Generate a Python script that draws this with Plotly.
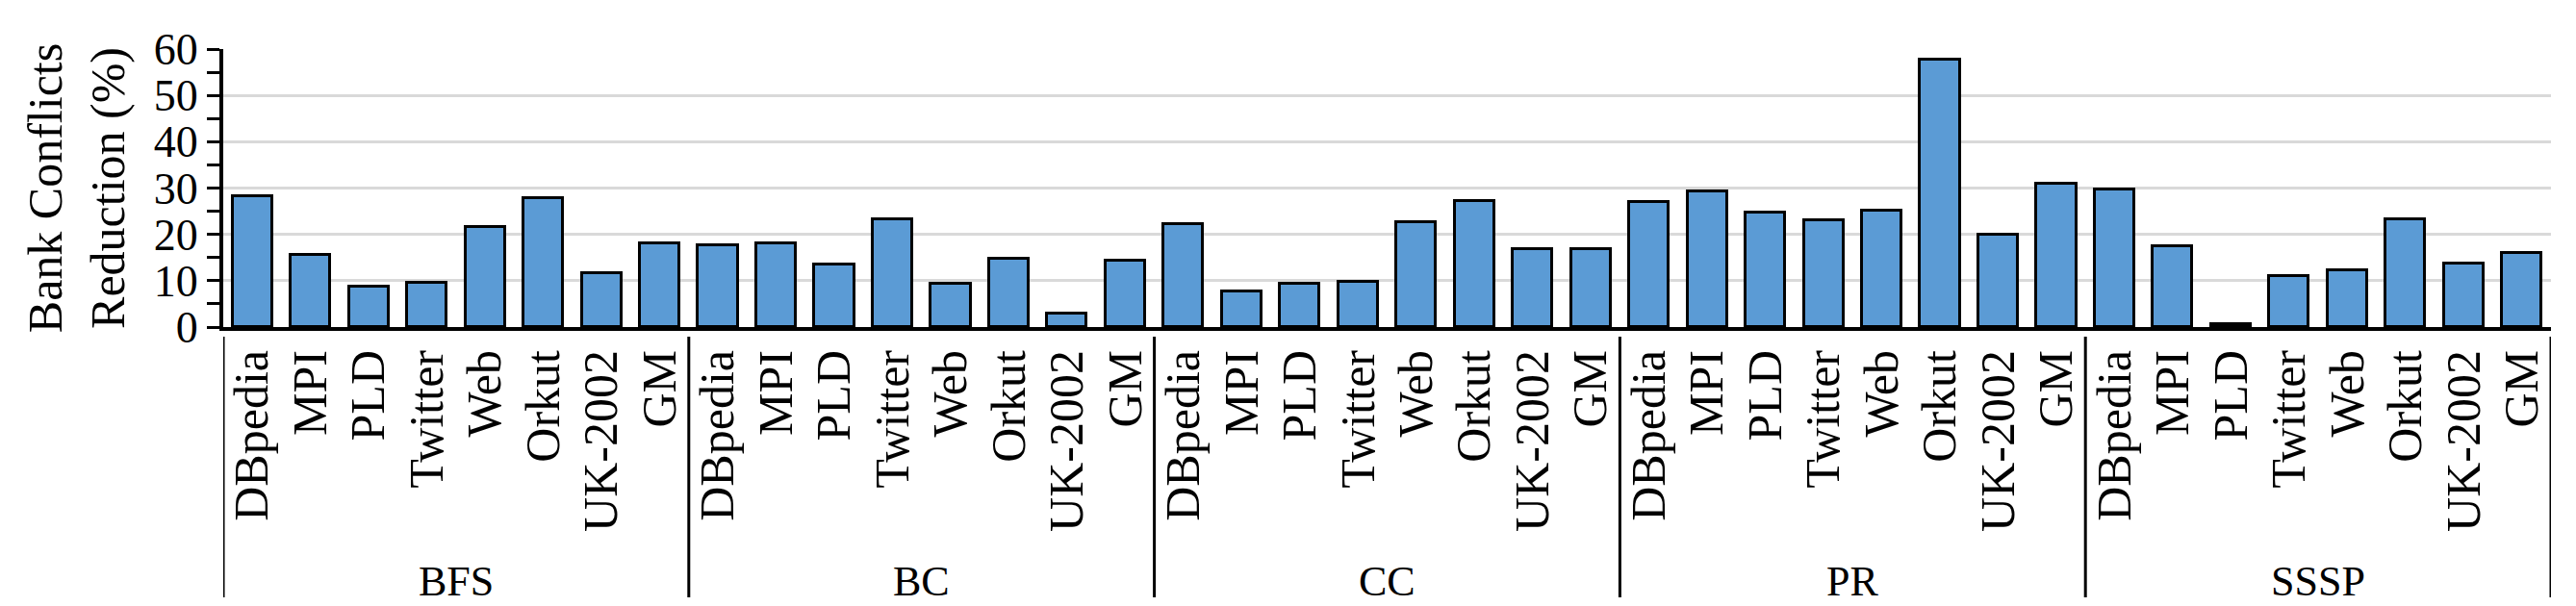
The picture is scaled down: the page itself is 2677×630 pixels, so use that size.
import plotly.graph_objects as go

groups = ["BFS", "BC", "CC", "PR", "SSSP"]
graphs = ["DBpedia", "MPI", "PLD", "Twitter", "Web", "Orkut", "UK-2002", "GM"]

bfs = [28.2, 15.6, 8.7, 9.6, 21.5, 27.9, 11.7, 18.0]
bc = [17.6, 18.0, 13.4, 23.2, 9.3, 14.7, 3.0, 14.4]
cc = [22.3, 7.6, 9.4, 9.7, 22.7, 27.3, 16.9, 16.9]
pr = [26.9, 29.3, 24.7, 23.1, 25.2, 57.7, 20.0, 30.9]
sssp = [29.6, 17.5, 0.7, 11.0, 12.3, 23.2, 13.8, 15.9]

series = [bfs, bc, cc, pr, sssp]

FONT = "Liberation Serif"
n = len(graphs)

xs, ys, labels = [], [], []
for g, vals in enumerate(series):
    for i, v in enumerate(vals):
        xs.append(g * n + i)
        ys.append(v)
        labels.append(graphs[i])

fig = go.Figure()
fig.add_trace(go.Bar(
    x=xs, y=ys, width=0.68,
    marker=dict(color="#5B9BD5", line=dict(color="black", width=3)),
    showlegend=False,
))

W, H = 2677, 630
ml, mr, mt, mb = 224, 34, 43, 298
ph = H - mt - mb

shapes = []
for g in range(len(groups) + 1):
    shapes.append(dict(type="line", xref="x", yref="paper",
                       x0=g * n - 0.5, x1=g * n - 0.5,
                       y0=-10 / ph, y1=-281 / ph,
                       line=dict(color="black", width=3)))

annotations = []
for g, name in enumerate(groups):
    annotations.append(dict(x=g * n + (n - 1) / 2, y=-264 / ph, xref="x", yref="paper",
                            text=name, showarrow=False, yanchor="middle",
                            font=dict(family=FONT, size=44, color="black")))

fig.update_layout(
    width=W, height=H,
    margin=dict(l=ml, r=mr, t=mt, b=mb),
    plot_bgcolor="white", paper_bgcolor="white",
    shapes=shapes, annotations=annotations,
    bargap=0,
    xaxis=dict(
        range=[-0.5, len(groups) * n - 0.5],
        tickvals=xs, ticktext=labels, tickangle=-90,
        tickfont=dict(family=FONT, size=50, color="black"),
        showline=True, linecolor="black", linewidth=4,
        showgrid=False, ticks="", zeroline=False,
    ),
    yaxis=dict(
        range=[0, 60], dtick=10,
        tickfont=dict(family=FONT, size=46, color="black"),
        showline=True, linecolor="black", linewidth=4,
        ticks="outside", ticklen=13, tickwidth=3, tickcolor="black",
        minor=dict(dtick=5, ticks="outside", ticklen=13, tickwidth=3, tickcolor="black", showgrid=False),
        showgrid=True, gridcolor="#d9d9d9", gridwidth=3,
        zeroline=False,
        title=dict(text="Bank Conflicts<br>Reduction (%)", standoff=15,
                   font=dict(family=FONT, size=50, color="black")),
    ),
)

fig.write_html("out.html")
